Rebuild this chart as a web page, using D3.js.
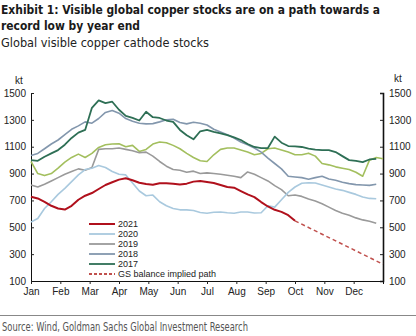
<!DOCTYPE html>
<html><head><meta charset="utf-8">
<script src="https://cdn.jsdelivr.net/npm/d3@7"></script>
<style>
html,body{margin:0;padding:0;background:#fff;}
svg{display:block;}
</style></head>
<body>
<svg id="c" width="416" height="336"></svg>
<script>
// ---- data (kt, weekly) ----
const months = ["Jan","Feb","Mar","Apr","May","Jun","Jul","Aug","Sep","Oct","Nov","Dec"];
const yTicks = [100,300,500,700,900,1100,1300,1500];

const s2021 = [728,715,690,660,640,632,660,705,735,755,785,815,835,855,865,850,832,822,817,828,828,825,818,825,840,845,838,830,815,800,795,770,745,725,688,655,630,615,590,548];
const gsPathWeeks = [39,52];
const gsPath = [548,225];
const s2020 = [540,565,640,690,745,790,840,890,930,940,960,945,915,895,890,830,770,735,740,690,660,640,630,630,625,610,605,612,614,608,605,614,614,606,608,660,650,705,760,800,828,832,830,815,800,785,775,760,745,725,715,712];
const s2019 = [815,800,820,845,870,895,915,935,925,945,1080,1085,1085,1090,1080,1070,1055,1060,1030,990,955,930,925,910,918,900,905,900,895,888,880,870,912,895,870,845,810,780,735,740,730,710,695,675,650,625,605,590,570,555,545,530];
const s2018 = [1035,1050,1085,1120,1150,1190,1230,1255,1285,1275,1310,1355,1370,1350,1310,1290,1275,1270,1272,1285,1300,1305,1280,1270,1282,1275,1262,1230,1210,1190,1165,1135,1115,1090,1060,1015,975,935,880,875,870,858,870,880,860,850,835,825,818,815,812,820];
const s2017 = [1000,995,1025,1050,1075,1115,1165,1205,1225,1390,1445,1425,1435,1375,1330,1315,1295,1360,1320,1314,1295,1285,1225,1185,1155,1215,1225,1210,1200,1187,1170,1150,1120,1098,1090,1090,1175,1130,1105,1102,1098,1085,1078,1075,1075,1060,1030,1000,995,985,1005,1010];
const sOther = [990,900,885,900,940,985,1020,1045,1020,1050,1095,1115,1120,1122,1100,1110,1065,1080,1120,1135,1130,1110,1085,1050,1020,995,990,1040,1080,1090,1090,1075,1060,1040,1050,1085,1090,1075,1060,1040,1040,1052,1030,975,965,950,940,930,910,880,1000,1020,1010];

const legendLabels = ["2021","2020","2019","2018","2017","GS balance implied path"];

// ---- drawing ----
const svg = d3.select("#c");
const L = 31, R = 383, T = 93, B = 281;
const x = d3.scaleLinear().domain([0,52]).range([L,R]);
const y = d3.scaleLinear().domain([100,1500]).range([B,T]);

const condensed = "'Liberation Sans Narrow','Arial Narrow','DejaVu Sans Condensed',sans-serif";
const sans = "'Liberation Sans',Arial,sans-serif";

// titles
svg.append("text").attr("x",1).attr("y",14).attr("font-family",condensed).attr("font-weight","bold")
  .attr("font-size",13).attr("fill","#1a1a1a").attr("textLength",379).attr("lengthAdjust","spacingAndGlyphs")
  .text("Exhibit 1: Visible global copper stocks are on a path towards a");
svg.append("text").attr("x",1).attr("y",29.5).attr("font-family",condensed).attr("font-weight","bold")
  .attr("font-size",13).attr("fill","#1a1a1a").attr("textLength",139).attr("lengthAdjust","spacingAndGlyphs")
  .text("record low by year end");
svg.append("text").attr("x",1).attr("y",47).attr("font-family",condensed)
  .attr("font-size",13).attr("fill","#222").attr("textLength",208).attr("lengthAdjust","spacingAndGlyphs")
  .text("Global visible copper cathode stocks");

// axes
const axL = d3.axisLeft(y).tickValues(yTicks).tickSize(-3).tickPadding(5).tickFormat(d3.format("d"));
const gL = svg.append("g").attr("transform",`translate(${L},0)`).call(axL);
const axR = d3.axisRight(y).tickValues(yTicks).tickSize(-3).tickPadding(6).tickFormat(d3.format("d"));
const gR = svg.append("g").attr("transform",`translate(${R},0)`).call(axR);
const monthPos = months.map((m,i)=>52*i/12);
const axB = d3.axisBottom(x).tickValues(monthPos).tickSize(3).tickPadding(4).tickFormat((d,i)=>months[i]);
const gB = svg.append("g").attr("transform",`translate(0,${B})`).call(axB);
[gL,gR,gB].forEach(g=>{
  g.selectAll("text").attr("font-family",sans).attr("font-size",10).attr("fill","#222");
  g.selectAll("line").attr("stroke","#222");
  g.select(".domain").attr("stroke","#111");
});
gR.select(".domain").attr("stroke-width",1.6);
gL.select(".domain").attr("stroke-width",1);
svg.append("text").attr("x",19).attr("y",84).attr("text-anchor","middle").attr("font-family",sans).attr("font-size",10).attr("fill","#222").text("kt");
svg.append("text").attr("x",398).attr("y",82).attr("text-anchor","middle").attr("font-family",sans).attr("font-size",10).attr("fill","#222").text("kt");

// lines
const line = d3.line().x((d,i)=>x(i)).y(d=>y(d));
const series = [
  {d:sOther, c:"#a3bf5e", w:1.6},
  {d:s2019, c:"#9a9a9a", w:1.6},
  {d:s2020, c:"#a9c9de", w:1.6},
  {d:s2018, c:"#8397ad", w:1.6},
  {d:s2017, c:"#2e6f55", w:1.8},
];
series.forEach(s=>{
  svg.append("path").datum(s.d).attr("d",line).attr("fill","none")
    .attr("stroke",s.c).attr("stroke-width",s.w).attr("stroke-linejoin","round");
});
svg.append("path").datum(gsPath)
  .attr("d",d3.line().x((d,i)=>x(gsPathWeeks[i])).y(d=>y(d)))
  .attr("fill","none").attr("stroke","#c0504d").attr("stroke-width",1.5).attr("stroke-dasharray","4,3");
svg.append("path").datum(s2021).attr("d",line).attr("fill","none")
  .attr("stroke","#b0101c").attr("stroke-width",2).attr("stroke-linejoin","round");

// legend
const legColors = ["#b0101c","#a9c9de","#9a9a9a","#8397ad","#2e6f55","#c0504d"];
const lg = svg.append("g");
legendLabels.forEach((t,i)=>{
  const yy = 224 + i*10;
  lg.append("line").attr("x1",89).attr("x2",115).attr("y1",yy).attr("y2",yy)
    .attr("stroke",legColors[i]).attr("stroke-width", i===0?2:1.8)
    .attr("stroke-dasharray", i===5?"3,2":null);
  lg.append("text").attr("x",118).attr("y",yy+3.2).attr("font-family",sans).attr("font-size",9)
    .attr("fill","#222").text(t);
});

// footer
svg.append("line").attr("x1",0).attr("x2",416).attr("y1",315.5).attr("y2",315.5).attr("stroke","#888").attr("stroke-width",1);
svg.append("text").attr("x",2).attr("y",331).attr("font-family",condensed).attr("font-size",12)
  .attr("fill","#555").attr("textLength",246).attr("lengthAdjust","spacingAndGlyphs")
  .text("Source: Wind, Goldman Sachs Global Investment Research");
</script>
</body></html>
